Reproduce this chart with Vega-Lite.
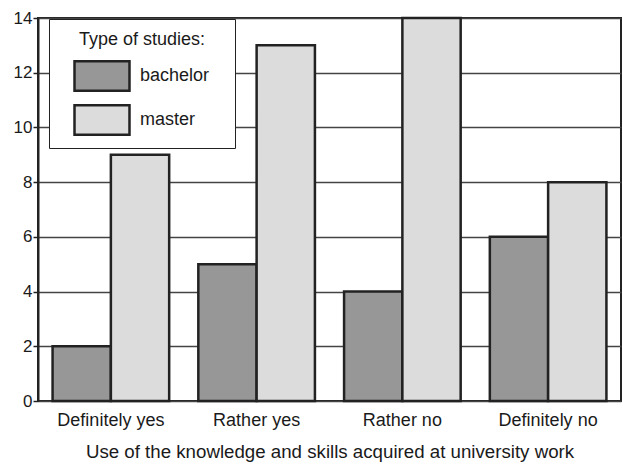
{
  "$schema": "https://vega.github.io/schema/vega-lite/v6.json",
  "width": 583,
  "height": 383,
  "autosize": {"type": "none"},
  "padding": {"left": 38, "top": 18, "right": 2, "bottom": 63},
  "background": "white",
  "config": {
    "font": "Liberation Sans",
    "view": {"stroke": "#222222", "strokeWidth": 2},
    "axis": {"labelFontSize": 18, "labelColor": "#1a1a1a", "titleFontSize": 18.7, "titleColor": "#1a1a1a", "titleFontWeight": "normal"}
  },
  "data": {
    "values": [
      {"answer": "Definitely yes", "type": "bachelor", "count": 2},
      {"answer": "Definitely yes", "type": "master", "count": 9},
      {"answer": "Rather yes", "type": "bachelor", "count": 5},
      {"answer": "Rather yes", "type": "master", "count": 13},
      {"answer": "Rather no", "type": "bachelor", "count": 4},
      {"answer": "Rather no", "type": "master", "count": 14},
      {"answer": "Definitely no", "type": "bachelor", "count": 6},
      {"answer": "Definitely no", "type": "master", "count": 8}
    ]
  },
  "mark": {"type": "bar", "stroke": "#222222", "strokeWidth": 2.5},
  "encoding": {
    "x": {
      "field": "answer",
      "type": "nominal",
      "sort": ["Definitely yes", "Rather yes", "Rather no", "Definitely no"],
      "scale": {"paddingInner": 0.2, "paddingOuter": 0.1},
      "axis": {
        "title": "Use of the knowledge and skills acquired at university work",
        "labelAngle": 0,
        "ticks": false,
        "domain": false,
        "labelPadding": 10,
        "titlePadding": 13
      }
    },
    "xOffset": {"field": "type", "type": "nominal", "sort": ["bachelor", "master"], "scale": {"paddingInner": 0, "paddingOuter": 0}},
    "y": {
      "field": "count",
      "type": "quantitative",
      "scale": {"domain": [0, 14], "nice": false},
      "axis": {
        "title": null,
        "values": [0, 2, 4, 6, 8, 10, 12, 14],
        "grid": true,
        "gridColor": "#444444",
        "gridWidth": 1.5,
        "domainColor": "#222222",
        "domainWidth": 2,
        "tickColor": "#222222",
        "tickSize": 5,
        "tickWidth": 1.5,
        "labelPadding": 1,
        "labelFontSize": 17
      }
    },
    "fill": {
      "field": "type",
      "type": "nominal",
      "scale": {"domain": ["bachelor", "master"], "range": ["#979797", "#dcdcdc"]},
      "legend": {
        "title": "Type of studies:",
        "orient": "none",
        "legendX": 11,
        "legendY": 1,
        "padding": 12,
        "strokeColor": "#222222",
        "fillColor": "white",
        "titleFontSize": 18,
        "titleFontWeight": "normal",
        "titleColor": "#1a1a1a",
        "titleAnchor": "middle",
        "titlePadding": 11,
        "labelFontSize": 18,
        "labelColor": "#1a1a1a",
        "labelOffset": 23,
        "symbolOffset": 26,
        "symbolType": "M-2,-1.07H2V1.07H-2Z",
        "symbolSize": 756,
        "symbolStrokeColor": "#222222",
        "symbolStrokeWidth": 2.5,
        "symbolOpacity": 1,
        "clipHeight": 32,
        "rowPadding": 12,
        "labelExpr": "datum.label + '\u2800'"
      }
    }
  }
}
